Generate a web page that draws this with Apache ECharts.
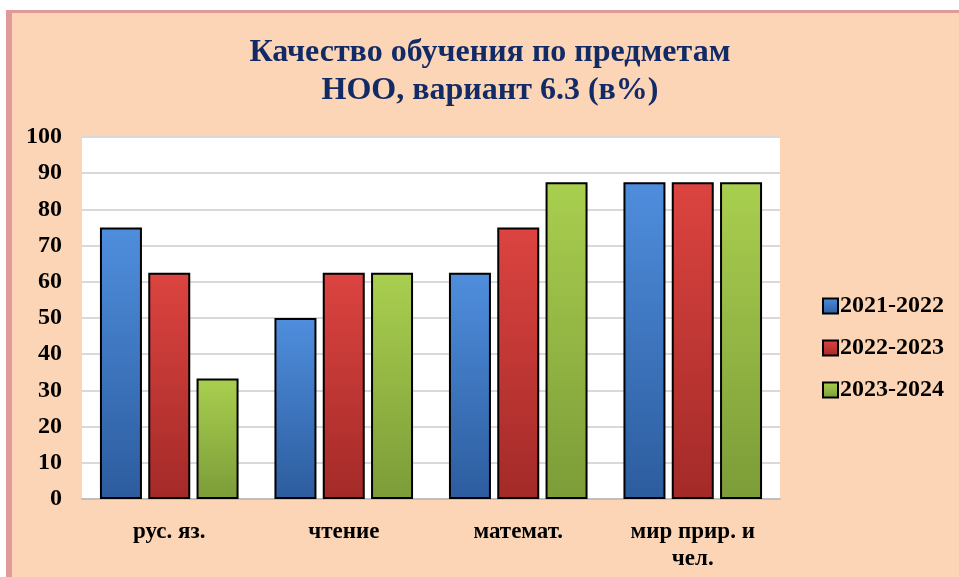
<!DOCTYPE html>
<html>
<head>
<meta charset="utf-8">
<script src="https://cdn.jsdelivr.net/npm/echarts@6/dist/echarts.min.js"></script>
<style>
  body { margin: 0; background: #ffffff; }
  #frame {
    position: absolute; left: 6px; top: 10px; width: 970px; height: 600px;
    background: #FBD5B5; border-left: 6px solid #E09A9A; border-top: 3px solid #E09A9A;
  }
  #main { position: absolute; left: 0; top: 0; width: 959px; height: 577px; }
</style>
</head>
<body>
<div id="frame"></div>
<div id="main"></div>
<script>
// предметы и годы
const categories = ['рус. яз.', 'чтение', 'математ.', 'мир прир. и\nчел.'];
const years = ['2021-2022', '2022-2023', '2023-2024'];
const v2122 = [75, 50, 62.5, 87.5];
const v2223 = [62.5, 62.5, 75, 87.5];
const v2324 = [33.3, 62.5, 87.5, 87.5];

const serif = '"Liberation Serif", "Times New Roman", serif';

function grad(top, bottom) {
    return new echarts.graphic.LinearGradient(0, 0, 0, 1, [
        { offset: 0, color: top },
        { offset: 1, color: bottom }
    ]);
}
const fills = [
    grad('#4F8EDD', '#2C5C9E'),
    grad('#DC4440', '#A32A28'),
    grad('#A9CF4F', '#7C9C38')
];
const values = [v2122, v2223, v2324];

let myChart = echarts.init(document.getElementById('main'));
myChart.setOption({
    backgroundColor: 'transparent',
    animation: false,
    title: {
        text: 'Качество обучения по предметам\nНОО, вариант 6.3 (в%)',
        left: 485,
        textAlign: 'center',
        top: 29,
        textStyle: {
            fontFamily: serif, fontWeight: 'bold', fontSize: 32,
            lineHeight: 38, color: '#122B66'
        }
    },
    legend: {
        orient: 'vertical',
        left: 817,
        top: 289,
        itemGap: 18,
        itemWidth: 15,
        itemHeight: 15,
        icon: 'rect',
        textStyle: { fontFamily: serif, fontWeight: 'bold', fontSize: 24, color: '#000', padding: [0, 0, 0, -3] },
        data: years
    },
    grid: {
        left: 82, top: 137, width: 698, height: 362,
        show: true, backgroundColor: '#ffffff', borderWidth: 0
    },
    xAxis: {
        type: 'category',
        data: categories,
        axisLine: { lineStyle: { color: '#BFBFBF', width: 2 } },
        axisTick: { show: false },
        axisLabel: {
            margin: 20, fontFamily: serif, fontWeight: 'bold', fontSize: 23,
            lineHeight: 27, color: '#000'
        }
    },
    yAxis: {
        type: 'value',
        min: 0, max: 100, interval: 10,
        axisLine: { show: false },
        axisTick: { show: false },
        splitLine: { lineStyle: { color: '#D9D9D9', width: 2 } },
        axisLabel: {
            margin: 20, fontFamily: serif, fontWeight: 'bold', fontSize: 24, color: '#000'
        }
    },
    series: years.map((y, i) => ({
        name: y,
        type: 'bar',
        data: values[i],
        barWidth: 42,
        barGap: '15%',
        itemStyle: { color: fills[i], borderColor: '#000', borderWidth: 2 }
    }))
});
</script>
</body>
</html>
